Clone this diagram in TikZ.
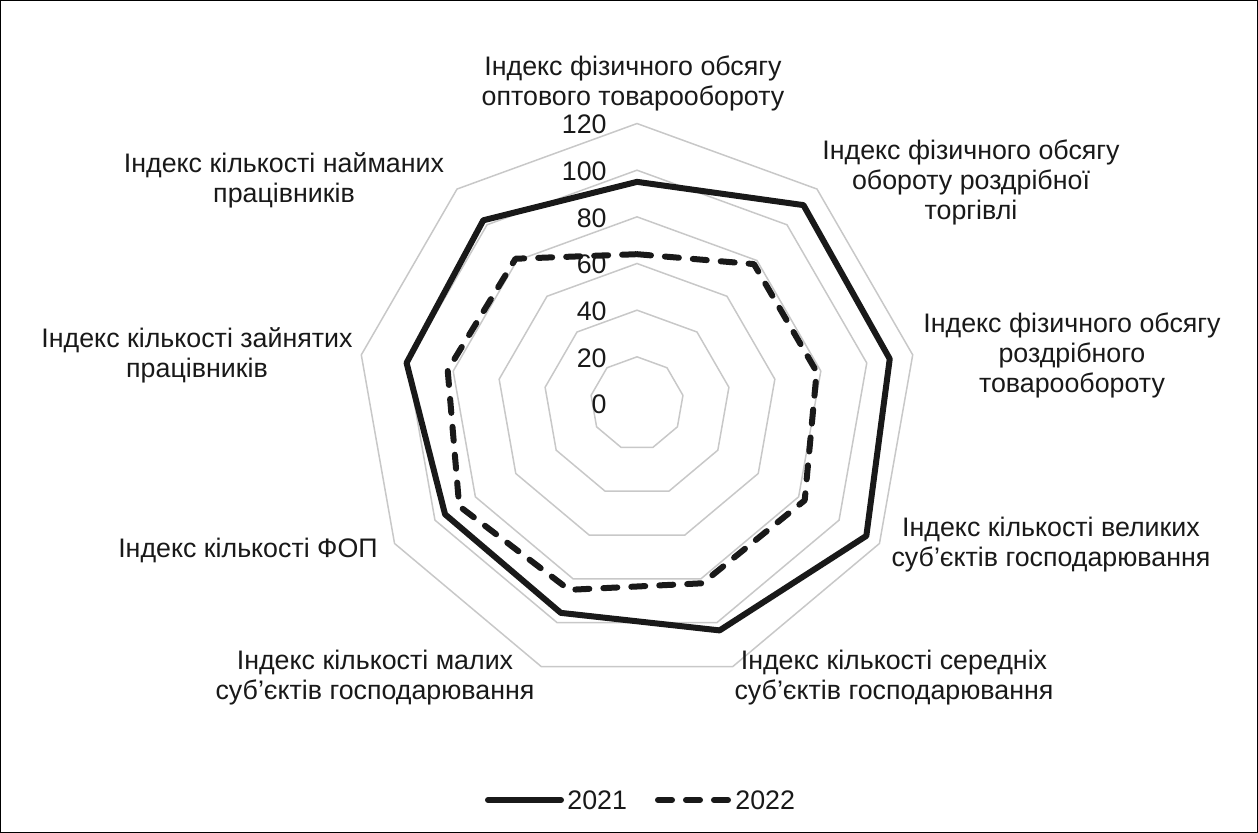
\documentclass[tikz,border=0pt]{standalone}
\usepackage{fontspec}
\setmainfont{Liberation Sans}
\usetikzlibrary{calc}
\definecolor{gridgray}{RGB}{200,200,200}
\definecolor{txt}{RGB}{25,25,25}
\begin{document}
\begin{tikzpicture}[x=0.5pt,y=-0.5pt,
  grid/.style={draw=gridgray, line width=0.75pt, line join=miter},
  s21/.style={draw=txt, line width=3pt, line join=round},
  s22/.style={draw=txt, line width=3pt, line cap=round, line join=round, dash pattern=on 7pt off 7pt},
  lab/.style={font=\fontsize{13.4pt}{15pt}\selectfont, align=center, text=txt, inner sep=0pt},
  ticklab/.style={font=\fontsize{13.4pt}{15pt}\selectfont, anchor=east, inner sep=0pt, text=txt}]
\useasboundingbox (0,0) rectangle (1258,833);
\draw[line width=0.6pt, black] (0.6,0.6) rectangle (1257.4,832.4);
\coordinate (O) at (637,403.5);
% grid rings
\foreach \v in {20,40,...,120}{
  \draw[grid] ($(O)+(-90:{\v*2.333})$)
    \foreach \k in {1,...,8}{ -- ($(O)+({-90+40*\k}:{\v*2.333})$) } -- cycle;
}
% tick labels
\foreach \v in {0,20,...,120}{
  \node[ticklab] (t\v) at (607,{404.5-\v*2.333}) {\v};
}
% data
\foreach \v [count=\k from 0] in {95,111,110,113.5,103.5,95.5,95,100.3,102.5}{
  \coordinate (a\k) at ($(O)+({-90+40*\k}:{\v*2.333})$);
}
\foreach \v [count=\k from 0] in {64,78,78.2,83,82,85,88,82.4,81}{
  \coordinate (b\k) at ($(O)+({-90+40*\k}:{\v*2.333})$);
}
\draw[s22] (b0) -- (b1) -- (b2) -- (b3) -- (b4) -- (b5) -- (b6) -- (b7) -- (b8) -- cycle;
\draw[s21] (a0) -- (a1) -- (a2) -- (a3) -- (a4) -- (a5) -- (a6) -- (a7) -- (a8) -- cycle;
% category labels
\node[lab] (c0) at (633,83) {Індекс фізичного обсягу\\оптового товарообороту};
\node[lab] (c1) at (971,182) {Індекс фізичного обсягу\\обороту роздрібної\\торгівлі};
\node[lab] (c2) at (1072,355) {Індекс фізичного обсягу\\роздрібного\\товарообороту};
\node[lab] (c3) at (1051,545) {Індекс кількості великих\\суб’єктів господарювання};
\node[lab] (c4) at (894,678) {Індекс кількості середніх\\суб’єктів господарювання};
\node[lab] (c5) at (375,678) {Індекс кількості малих\\суб’єктів господарювання};
\node[lab] (c6) at (248,550) {Індекс кількості ФОП};
\node[lab] (c7) at (197,355) {Індекс кількості зайнятих\\працівників};
\node[lab] (c8) at (284,180) {Індекс кількості найманих\\працівників};
% legend
\coordinate (l1a) at (488,800);
\coordinate (l1b) at (561,800);
\coordinate (l2a) at (658,800);
\coordinate (l2b) at (731,800);
\draw[s21, line cap=round] (l1a) -- (l1b);
\draw[s22] (l2a) -- (l2b);
\node[lab, anchor=west] (g1) at (567,800) {2021};
\node[lab, anchor=west] (g2) at (735,800) {2022};
\end{tikzpicture}
\end{document}
